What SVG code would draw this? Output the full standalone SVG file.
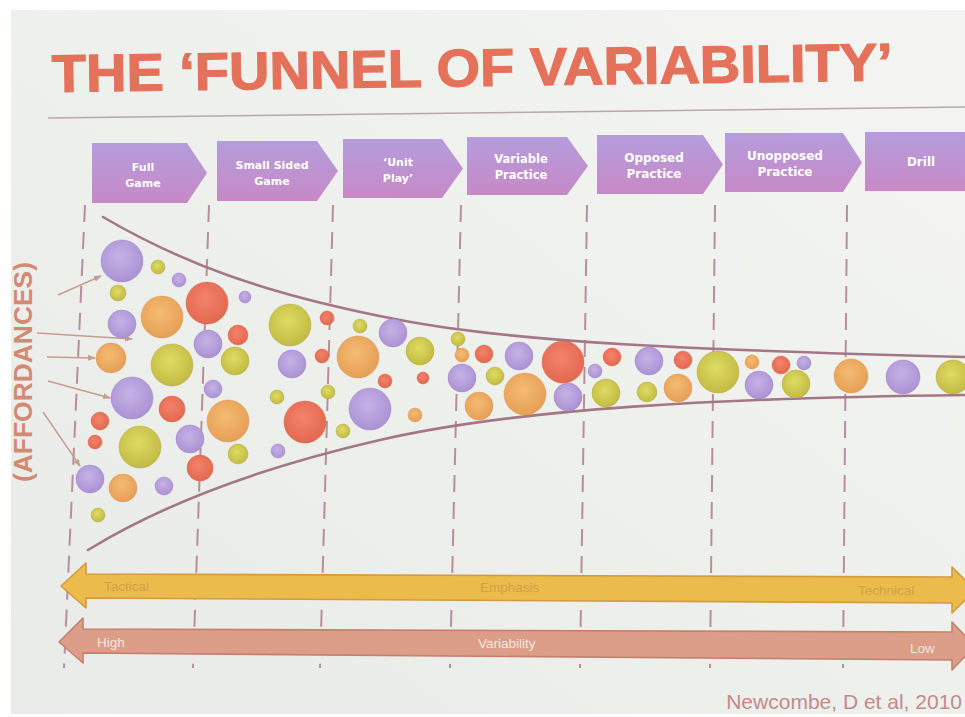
<svg xmlns="http://www.w3.org/2000/svg" width="965" height="717" viewBox="0 0 965 717">
  <style>
    .title { font-family: "Liberation Sans", Arial, sans-serif; font-weight: bold; fill: #e4715a; stroke: #e4715a; stroke-width: 1.2; }
    .side { font-family: "Liberation Sans", Arial, sans-serif; font-weight: bold; fill: #d48a72; }
    .stage { fill: url(#stageFill); }
    .stage-label { font-family: "DejaVu Sans", "Liberation Sans", sans-serif; font-weight: bold; fill: #ffffff; text-anchor: middle; }
    .divider { stroke: #b98e9b; stroke-width: 2; stroke-dasharray: 17 10; fill: none; }
    .funnel { stroke: #a37786; stroke-width: 2.6; fill: none; stroke-linecap: round; }
    .pointer { stroke: #c79c91; stroke-width: 1.4; fill: none; marker-end: url(#tip); }
    #affordances circle { stroke-width: 0.8; stroke-opacity: 0.55; }
    .p { fill: url(#gPurple); stroke: #9a7fc2; }
    .o { fill: url(#gOlive); stroke: #b0a838; }
    .a { fill: url(#gOrange); stroke: #dc9248; }
    .r { fill: url(#gRed); stroke: #d85a44; }
    .emph { fill: #ebbb4c; stroke: #d59a3e; stroke-width: 1.6; stroke-linejoin: round; }
    .vari { fill: #dc9d89; stroke: #c67f6d; stroke-width: 1.6; stroke-linejoin: round; }
    .emph-label { font-family: "Liberation Sans", Arial, sans-serif; font-size: 13.5px; fill: #d69f48; }
    .vari-label { font-family: "Liberation Sans", Arial, sans-serif; font-size: 13.5px; fill: #f7e6de; }
    .cite { font-family: "Liberation Sans", Arial, sans-serif; font-size: 21px; fill: #c48a89; text-anchor: end; }
  </style>
  <defs>
    <linearGradient id="slideFill" x1="0" y1="1" x2="1" y2="0">
      <stop offset="0" stop-color="#e8ebe7"/>
      <stop offset="1" stop-color="#f4f5f2"/>
    </linearGradient>
    <linearGradient id="stageFill" x1="0" y1="0" x2="0" y2="1">
      <stop offset="0" stop-color="#b59cdc"/>
      <stop offset="1" stop-color="#c789c6"/>
    </linearGradient>
    <radialGradient id="gPurple" cx="0.45" cy="0.4" r="0.6">
      <stop offset="0" stop-color="#c6b2e6"/>
      <stop offset="1" stop-color="#ab92d4"/>
    </radialGradient>
    <radialGradient id="gOlive" cx="0.45" cy="0.4" r="0.6">
      <stop offset="0" stop-color="#dfdc62"/>
      <stop offset="1" stop-color="#c2ba44"/>
    </radialGradient>
    <radialGradient id="gOrange" cx="0.45" cy="0.4" r="0.6">
      <stop offset="0" stop-color="#f5bb72"/>
      <stop offset="1" stop-color="#e69f56"/>
    </radialGradient>
    <radialGradient id="gRed" cx="0.45" cy="0.4" r="0.6">
      <stop offset="0" stop-color="#f3836a"/>
      <stop offset="1" stop-color="#e3684f"/>
    </radialGradient>
    <marker id="tip" markerWidth="8" markerHeight="6" refX="7" refY="3" orient="auto" markerUnits="userSpaceOnUse">
      <path d="M0,0 L8,3 L0,6 z" fill="#c79c91"/>
    </marker>
  </defs>

  <!-- page and slide surface -->
  <rect width="965" height="717" fill="#ffffff"/>
  <rect x="11" y="10" width="954" height="704" fill="url(#slideFill)"/>

  <!-- heading -->
  <g id="heading">
    <text class="title" x="52" y="92" font-size="53" textLength="841" lengthAdjust="spacingAndGlyphs" transform="rotate(-0.8 52 92)">THE ‘FUNNEL OF VARIABILITY’</text>
    <line x1="48" y1="118" x2="965" y2="107" stroke="#baa7a7" stroke-width="1.5"/>
  </g>

  <!-- side caption -->
  <g id="affordances-label">
    <text class="side" font-size="25" text-anchor="middle" textLength="220" lengthAdjust="spacingAndGlyphs" transform="translate(32 372) rotate(-90)">(AFFORDANCES)</text>
  </g>

  <!-- connectors: stage dividers, funnel walls, pointers -->
  <g id="connectors">
    <line class="divider" x1="85" y1="205" x2="64" y2="668"/>
    <line class="divider" x1="209" y1="205" x2="193" y2="668"/>
    <line class="divider" x1="333" y1="205" x2="320" y2="668"/>
    <line class="divider" x1="461" y1="205" x2="450" y2="668"/>
    <line class="divider" x1="587" y1="205" x2="580" y2="668"/>
    <line class="divider" x1="715" y1="205" x2="710" y2="668"/>
    <line class="divider" x1="847" y1="205" x2="843" y2="668"/>

    <path class="funnel" d="M103,217 C180,262 260,293 400,320 C520,343 700,350 965,357"/>
    <path class="funnel" d="M88,550 C150,512 240,472 380,440 C520,408 720,398 965,395"/>

    <line class="pointer" x1="58" y1="295" x2="101" y2="276"/>
    <line class="pointer" x1="37" y1="333" x2="132" y2="339"/>
    <line class="pointer" x1="47" y1="357" x2="95" y2="358"/>
    <line class="pointer" x1="48" y1="381" x2="110" y2="398"/>
    <line class="pointer" x1="43" y1="412" x2="80" y2="466"/>
  </g>

  <!-- stage headers -->
  <g id="stage-full-game">
    <polygon class="stage" points="92,143 187,143 207,173 187,203 92,203"/>
    <text class="stage-label" x="143" y="171" font-size="11">Full</text>
    <text class="stage-label" x="143" y="187" font-size="11">Game</text>
  </g>
  <g id="stage-small-sided">
    <polygon class="stage" points="217,141 317,141 338,171 317,201 217,201"/>
    <text class="stage-label" x="272" y="169" font-size="11">Small Sided</text>
    <text class="stage-label" x="272" y="185" font-size="11">Game</text>
  </g>
  <g id="stage-unit-play">
    <polygon class="stage" points="343,139 442,139 463,168.5 442,198 343,198"/>
    <text class="stage-label" x="398" y="166" font-size="11">‘Unit</text>
    <text class="stage-label" x="398" y="182" font-size="11">Play’</text>
  </g>
  <g id="stage-variable">
    <polygon class="stage" points="467,137 567,137 588,166 567,195 467,195"/>
    <text class="stage-label" x="521" y="163" font-size="11.5">Variable</text>
    <text class="stage-label" x="521" y="179" font-size="11.5">Practice</text>
  </g>
  <g id="stage-opposed">
    <polygon class="stage" points="597,135 703,135 723,164.5 703,194 597,194"/>
    <text class="stage-label" x="654" y="162" font-size="12">Opposed</text>
    <text class="stage-label" x="654" y="178" font-size="12">Practice</text>
  </g>
  <g id="stage-unopposed">
    <polygon class="stage" points="725,133 843,133 862,162.5 843,192 725,192"/>
    <text class="stage-label" x="785" y="160" font-size="12">Unopposed</text>
    <text class="stage-label" x="785" y="176" font-size="12">Practice</text>
  </g>
  <g id="stage-drill">
    <polygon class="stage" points="865,132 975,132 975,191 865,191"/>
    <text class="stage-label" x="921" y="166" font-size="12">Drill</text>
  </g>

  <!-- affordance circles inside the funnel -->
  <g id="affordances">
    <circle class="p" cx="122" cy="261" r="21"/>
    <circle class="o" cx="158" cy="267" r="7"/>
    <circle class="p" cx="179" cy="280" r="7"/>
    <circle class="o" cx="118" cy="293" r="8"/>
    <circle class="r" cx="207" cy="303" r="21"/>
    <circle class="p" cx="245" cy="297" r="6"/>
    <circle class="p" cx="122" cy="324" r="14"/>
    <circle class="a" cx="162" cy="317" r="21"/>
    <circle class="o" cx="290" cy="325" r="21"/>
    <circle class="r" cx="238" cy="335" r="10"/>
    <circle class="p" cx="208" cy="344" r="14"/>
    <circle class="a" cx="111" cy="358" r="15"/>
    <circle class="o" cx="172" cy="365" r="21"/>
    <circle class="o" cx="235" cy="361" r="14"/>
    <circle class="p" cx="292" cy="364" r="14"/>
    <circle class="p" cx="213" cy="389" r="9"/>
    <circle class="p" cx="132" cy="398" r="21"/>
    <circle class="r" cx="172" cy="409" r="13"/>
    <circle class="o" cx="277" cy="397" r="7"/>
    <circle class="a" cx="228" cy="421" r="21"/>
    <circle class="r" cx="305" cy="422" r="21"/>
    <circle class="r" cx="100" cy="421" r="9"/>
    <circle class="r" cx="95" cy="442" r="7"/>
    <circle class="o" cx="140" cy="447" r="21"/>
    <circle class="p" cx="190" cy="439" r="14"/>
    <circle class="o" cx="238" cy="454" r="10"/>
    <circle class="p" cx="278" cy="451" r="7"/>
    <circle class="r" cx="200" cy="468" r="13"/>
    <circle class="p" cx="90" cy="479" r="14"/>
    <circle class="a" cx="123" cy="488" r="14"/>
    <circle class="p" cx="164" cy="486" r="9"/>
    <circle class="o" cx="98" cy="515" r="7"/>

    <circle class="r" cx="327" cy="318" r="7"/>
    <circle class="o" cx="360" cy="326" r="7"/>
    <circle class="p" cx="393" cy="333" r="14"/>
    <circle class="o" cx="420" cy="351" r="14"/>
    <circle class="a" cx="358" cy="357" r="21"/>
    <circle class="r" cx="322" cy="356" r="7"/>
    <circle class="r" cx="385" cy="381" r="7"/>
    <circle class="r" cx="423" cy="378" r="6"/>
    <circle class="o" cx="328" cy="392" r="7"/>
    <circle class="p" cx="370" cy="409" r="21"/>
    <circle class="a" cx="415" cy="415" r="7"/>
    <circle class="o" cx="343" cy="431" r="7"/>
    <circle class="o" cx="458" cy="339" r="7"/>
    <circle class="a" cx="462" cy="355" r="7"/>
    <circle class="r" cx="484" cy="354" r="9"/>
    <circle class="p" cx="462" cy="378" r="14"/>
    <circle class="o" cx="495" cy="376" r="9"/>
    <circle class="p" cx="519" cy="356" r="14"/>
    <circle class="r" cx="563" cy="362" r="21"/>
    <circle class="a" cx="525" cy="394" r="21"/>
    <circle class="a" cx="479" cy="406" r="14"/>
    <circle class="p" cx="568" cy="397" r="14"/>
    <circle class="p" cx="595" cy="371" r="7"/>
    <circle class="r" cx="612" cy="357" r="9"/>
    <circle class="o" cx="606" cy="393" r="14"/>

    <circle class="p" cx="649" cy="361" r="14"/>
    <circle class="r" cx="683" cy="360" r="9"/>
    <circle class="o" cx="647" cy="392" r="10"/>
    <circle class="a" cx="678" cy="388" r="14"/>
    <circle class="o" cx="718" cy="372" r="21"/>
    <circle class="a" cx="752" cy="362" r="7"/>
    <circle class="r" cx="781" cy="365" r="9"/>
    <circle class="p" cx="804" cy="363" r="7"/>
    <circle class="p" cx="759" cy="385" r="14"/>
    <circle class="o" cx="796" cy="384" r="14"/>
    <circle class="a" cx="851" cy="376" r="17"/>
    <circle class="p" cx="903" cy="377" r="17"/>
    <circle class="o" cx="953" cy="377" r="17"/>
  </g>

  <!-- emphasis scale -->
  <g id="emphasis-scale">
    <polygon class="emph" points="61,586 86,563 86,574 952,577 952,567 975,590 952,613 952,603 86,598 86,608"/>
    <text class="emph-label" x="104" y="591">Tactical</text>
    <text class="emph-label" x="480" y="592">Emphasis</text>
    <text class="emph-label" x="858" y="595">Technical</text>
  </g>

  <!-- variability scale -->
  <g id="variability-scale">
    <polygon class="vari" points="59,642 83,618 83,629 952,632 952,622 975,646 952,670 952,660 83,653 83,663"/>
    <text class="vari-label" x="97" y="647">High</text>
    <text class="vari-label" x="478" y="648">Variability</text>
    <text class="vari-label" x="910" y="653">Low</text>
  </g>

  <!-- source -->
  <text class="cite" x="962" y="709">Newcombe, D et al, 2010</text>
</svg>
